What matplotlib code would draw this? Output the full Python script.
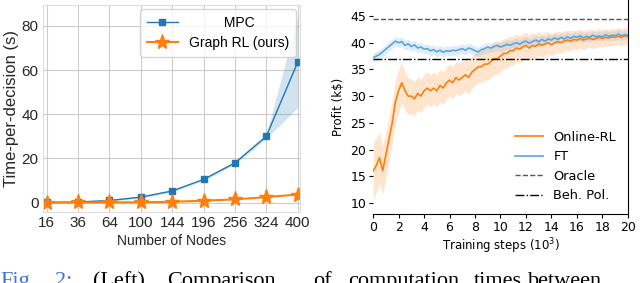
#  two panel figure: computation times (left), training curves (right)
import numpy as np
import matplotlib
matplotlib.use("Agg")
import matplotlib.pyplot as plt
import seaborn as sns

#...............................................................
# left panel data
nodes = ["16", "36", "64", "100", "144", "196", "256", "324", "400"]
mpc_time = [0.1, 0.3, 1.0, 2.5, 5.3, 10.5, 18.0, 30.0, 63.5]
mpc_lo = [0.0, 0.1, 0.7, 2.1, 4.9, 10.0, 17.3, 29.0, 43.0]
mpc_hi = [0.2, 0.5, 1.3, 2.9, 5.7, 11.0, 18.7, 31.0, 84.0]
rl_time = [0.05, 0.1, 0.15, 0.2, 0.4, 0.9, 1.5, 2.5, 3.7]

#...............................................................
# right panel data (x in 10^3 steps)
steps = [i * 0.25 for i in range(81)]
online_rl = [16.0, 17.0, 18.5, 16.0, 19.0, 22.0, 25.0, 29.0, 31.0, 32.5,
             31.0, 30.0, 30.0, 29.5, 30.5, 30.0, 31.0, 31.5, 31.0, 31.5,
             31.0, 32.0, 31.5, 32.5, 33.0, 32.5, 33.5, 33.0, 33.5, 34.0,
             33.5, 34.5, 35.0, 35.5, 35.5, 36.0, 36.0, 36.5, 37.0, 37.0,
             37.5, 38.0, 38.0, 38.5, 38.5, 39.0, 38.8, 39.2, 39.5, 39.0,
             39.5, 39.3, 39.8, 39.5, 39.8, 40.0, 39.6, 40.0, 40.2, 40.0,
             40.3, 40.5, 40.3, 40.6, 40.5, 40.8, 40.5, 40.7, 40.9, 40.6,
             40.8, 41.0, 40.8, 41.0, 40.9, 41.1, 41.0, 41.2, 41.0, 41.3,
             41.2]
online_rl_sd = [5.5, 5.0, 4.8, 4.5, 4.3, 4.2, 4.0, 4.0, 4.0, 3.8,
                3.6, 3.4, 3.3, 3.2, 3.2, 3.1, 3.1, 3.0, 3.0, 3.0,
                3.0, 3.0, 3.0, 3.0, 3.0, 3.0, 3.0, 3.0, 3.0, 3.0,
                3.0, 3.0, 3.0, 3.0, 3.0, 3.0, 3.0, 3.0, 3.0, 2.9,
                2.9, 2.8, 2.8, 2.7, 2.7, 2.6, 2.6, 2.5, 2.5, 2.4,
                2.4, 2.3, 2.3, 2.2, 2.2, 2.1, 2.1, 2.0, 2.0, 2.0,
                1.9, 1.9, 1.9, 1.8, 1.8, 1.8, 1.8, 1.7, 1.7, 1.7,
                1.7, 1.7, 1.6, 1.6, 1.6, 1.6, 1.6, 1.6, 1.6, 1.6,
                1.6]
ft = [37.2, 37.5, 37.8, 38.3, 38.8, 39.3, 39.8, 40.3, 40.0, 40.2,
      39.5, 39.8, 39.3, 39.6, 39.0, 39.2, 38.8, 38.9, 38.5, 38.7,
      38.3, 38.6, 38.2, 38.5, 38.4, 38.6, 38.5, 38.7, 38.9, 38.6,
      39.0, 38.8, 38.5, 38.3, 38.7, 38.9, 39.2, 39.0, 39.3, 39.5,
      39.2, 39.4, 39.7, 39.5, 39.8, 40.0, 39.7, 40.1, 40.3, 39.9,
      40.2, 40.5, 40.2, 40.6, 40.3, 40.7, 40.5, 40.9, 40.6, 41.0,
      40.7, 41.1, 40.8, 41.2, 41.0, 41.3, 40.9, 41.2, 41.0, 41.4,
      41.1, 41.3, 41.1, 41.5, 41.2, 41.4, 41.3, 41.6, 41.3, 41.5,
      41.4]
ft_sd = 0.9
oracle = 44.5
beh_pol = 37.0

blue = "#1f77b4"
orange = "#ff7f0e"
ft_blue = "#5da5da"
sans = "Liberation Sans"

fig = plt.figure(figsize=(6.4, 2.83), dpi=100)

#...............................................................
# left panel, seaborn whitegrid look
with sns.axes_style("whitegrid"):
    ax1 = fig.add_axes([0.067, 0.251, 0.402, 0.731])
xx = np.arange(len(nodes))
ax1.fill_between(xx, mpc_lo, mpc_hi, color=blue, alpha=0.2, lw=0)
ax1.plot(xx, mpc_time, color=blue, marker="s", ms=5, lw=1,
         label="         MPC")   # spaces: label looks centred in the box
ax1.plot(xx, rl_time, color=orange, marker="*", ms=11, lw=1.5,
         label="Graph RL (ours)")
ax1.set_xticks(xx)
ax1.set_xticklabels(nodes)
ax1.set_xlim(-0.12, 8.08)
ax1.set_ylim(-4.2, 89.4)
ax1.set_yticks([0, 20, 40, 60, 80])
ax1.tick_params(labelsize=11, pad=3, length=0)
for t in ax1.get_xticklabels() + ax1.get_yticklabels():
    t.set_family(sans)
ax1.set_xlabel("Number of Nodes", fontsize=10, family=sans, labelpad=3)
ax1.set_ylabel("Time-per-decision (s)", fontsize=12, family=sans,
               labelpad=2)
for sp in ax1.spines.values():
    sp.set_color("#dddddd")
leg1 = ax1.legend(loc="upper right", frameon=True,
                  prop={"family": sans, "size": 10},
                  handlelength=2.2, borderaxespad=0.3, labelspacing=0.4,
                  borderpad=0.5)
leg1.get_frame().set_edgecolor("#cccccc")

#...............................................................
# right panel, plain matplotlib
ax2 = fig.add_axes([0.583, 0.244, 0.398, 0.756])
on = np.array(online_rl)
on_sd = np.array(online_rl_sd)
ftm = np.array(ft)
ax2.fill_between(steps, on - on_sd, on + on_sd, color=orange, alpha=0.2,
                 lw=0)
ax2.fill_between(steps, ftm - ft_sd, ftm + ft_sd, color=ft_blue,
                 alpha=0.2, lw=0)
ax2.plot(steps, online_rl, color=orange, lw=1.2, label="Online-RL")
ax2.plot(steps, ft, color=ft_blue, lw=1.2, label="FT")
ax2.axhline(oracle, color="#555555", ls="--", lw=1, label="Oracle")
ax2.axhline(beh_pol, color="black", ls="-.", lw=1, label="Beh. Pol.")
ax2.set_xlim(0, 20)
ax2.set_ylim(7.94, 48.0)
ax2.set_xticks(range(0, 21, 2))
ax2.set_yticks([10, 15, 20, 25, 30, 35, 40, 45])
ax2.tick_params(labelsize=9, length=3, pad=2)
ax2.spines["left"].set_visible(False)
ax2.spines["top"].set_visible(False)
ax2.set_xlabel("Training steps ($10^3$)", fontsize=8.5, labelpad=2)
ax2.set_ylabel("Profit (k\\$)", fontsize=8.5, labelpad=4)
ax2.legend(loc="lower right", frameon=False, fontsize=9.3,
           bbox_to_anchor=(1.0, 0.0), handlelength=2.2, labelspacing=0.5)

#...............................................................
# caption, cut off at the bottom of the picture as in the source
caption = [("Fig.", 0, "#3f72d8"), ("2:", 55, "#3f72d8"),
           ("(Left)", 93, "black"), ("Comparison", 167, "black"),
           ("of", 313, "black"), ("computation", 348, "black"),
           ("times", 474, "black"), ("between", 528, "black")]
for word, px, col in caption:
    fig.text(px / 640, 1 - 272 / 283, word, color=col, fontsize=16,
             family="Liberation Serif", va="top", ha="left")

fig.savefig("out.png", dpi=100)
